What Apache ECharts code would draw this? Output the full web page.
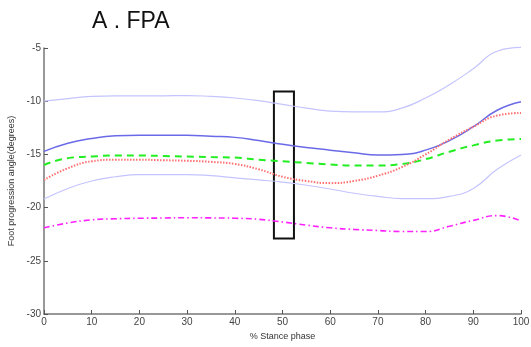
<!DOCTYPE html>
<html><head><meta charset="utf-8">
<script src="https://cdn.jsdelivr.net/npm/echarts@6/dist/echarts.min.js"></script>
<style>html,body{margin:0;padding:0;background:#fff}#c{width:531px;height:347px}</style>
</head><body><div id="c"></div>
<script>
const stance = [0, 5, 10, 15, 20, 25, 30, 35, 40, 45, 50, 55, 60, 65, 70, 75, 80, 85, 90, 95, 100];
const upperSD = [-10.0, -9.75, -9.55, -9.5, -9.5, -9.5, -9.47, -9.55, -9.7, -9.95, -10.3, -10.65, -10.93, -11.0, -11.0, -10.65, -9.7, -8.45, -6.95, -5.3, -4.95];
const meanFPA = [-14.72, -13.95, -13.5, -13.25, -13.2, -13.2, -13.2, -13.3, -13.4, -13.7, -14.05, -14.35, -14.6, -14.85, -15.05, -15.0, -14.6, -13.7, -12.4, -10.85, -10.05];
const lowerSD = [-19.2, -18.2, -17.5, -17.1, -16.9, -16.9, -16.9, -17.0, -17.2, -17.4, -17.6, -17.9, -18.25, -18.65, -18.95, -19.15, -19.15, -18.95, -18.2, -16.4, -15.05];
const greenLine = [-16.0, -15.35, -15.2, -15.1, -15.1, -15.15, -15.2, -15.25, -15.3, -15.5, -15.65, -15.8, -15.95, -16.05, -16.05, -15.9, -15.45, -14.75, -14.15, -13.7, -13.55];
const redLine = [-17.4, -16.3, -15.65, -15.5, -15.5, -15.55, -15.6, -15.7, -15.9, -16.4, -17.1, -17.5, -17.7, -17.5, -17.0, -16.2, -15.0, -13.6, -12.4, -11.35, -11.1];
const magentaLine = [-21.9, -21.45, -21.15, -21.05, -21.0, -20.98, -20.95, -20.97, -21.0, -21.1, -21.35, -21.65, -21.9, -22.05, -22.15, -22.25, -22.25, -21.75, -21.2, -20.75, -21.25];
const xTicks = [0, 10, 20, 30, 40, 50, 60, 70, 80, 90, 100];
const yTicks = [-30, -25, -20, -15, -10, -5];
const boxX = [48.2, 52.4];
const boxY = [-9.1, -22.9];

const pairs = arr => stance.map((x, i) => [x, arr[i]]);
const mk = (data, color, width, type) => ({
  type: 'line', data: pairs(data), smooth: 0.5, showSymbol: false, clip: false,
  lineStyle: { color, width, type }, silent: true
});
const chart = echarts.init(document.getElementById('c'));
const dash = [7, 5], dot = [1.5, 1.5], dashDot = [6, 3, 1.5, 3];
const s = [
  mk(upperSD, '#c4c4ff', 1.2, 'solid'),
  mk(meanFPA, '#6a6ae8', 1.5, 'solid'),
  mk(lowerSD, '#c4c4ff', 1.2, 'solid'),
  mk(greenLine, '#22ee22', 2, dash),
  mk(redLine, '#ff7070', 2, dot),
  mk(magentaLine, '#ff22ff', 1.6, dashDot)
];
s[0].markArea = {
  silent: true,
  itemStyle: { color: 'rgba(0,0,0,0)', borderColor: '#111', borderWidth: 2 },
  data: [[{ coord: [boxX[0], boxY[0]] }, { coord: [boxX[1], boxY[1]] }]]
};
chart.setOption({
  animation: false,
  title: { text: 'A . FPA', left: 87, top: 5, textStyle: { fontFamily: 'Liberation Sans', fontSize: 23, fontWeight: 'normal', color: '#111' } },
  grid: { left: 44, right: 10, top: 48, bottom: 33, outerBoundsMode: 'none' },
  xAxis: {
    type: 'value', min: 0, max: 100, interval: 10,
    name: '% Stance phase', nameLocation: 'middle', nameGap: 14,
    nameTextStyle: { fontFamily: 'Liberation Sans', fontSize: 9, color: '#333' },
    axisLine: { lineStyle: { color: '#777', width: 1.5 } },
    axisTick: { inside: true, length: 4, lineStyle: { color: '#555' } },
    axisLabel: { fontFamily: 'Liberation Sans', fontSize: 10, color: '#444', margin: 3 },
    splitLine: { show: false }
  },
  yAxis: {
    type: 'value', min: -30, max: -5, interval: 5,
    name: 'Foot progression angle(degrees)', nameLocation: 'middle', nameGap: 27,
    nameTextStyle: { fontFamily: 'Liberation Sans', fontSize: 9, color: '#333' },
    axisLine: { show: true, lineStyle: { color: '#777', width: 1.5 } },
    axisTick: { show: true, inside: true, length: 4, lineStyle: { color: '#555' } },
    axisLabel: { fontFamily: 'Liberation Sans', fontSize: 10, color: '#444', margin: 3 },
    splitLine: { show: false }
  },
  series: s
});
</script></body></html>
